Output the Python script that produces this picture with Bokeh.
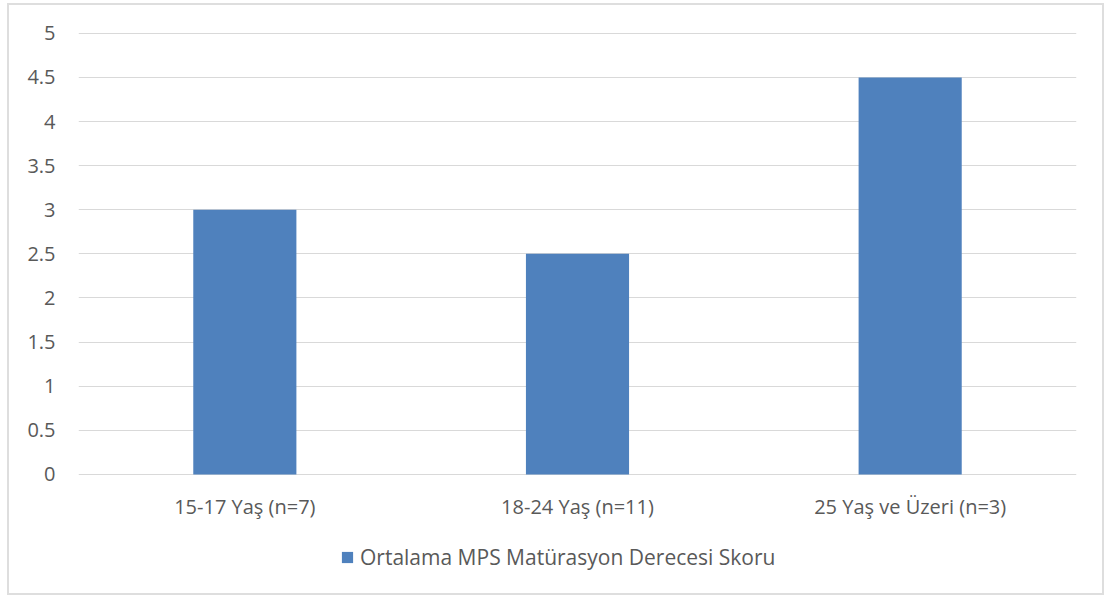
from bokeh.plotting import figure
from bokeh.models import FactorRange, Range1d, FixedTicker, Legend, LegendItem, ColumnDataSource
from bokeh.core.properties import value
from bokeh.embed import file_html
from bokeh.resources import INLINE

categories = ["15-17 Yaş (n=7)", "18-24 Yaş (n=11)", "25 Yaş ve Üzeri (n=3)"]
values = [3.0, 2.5, 4.5]
series_name = "Ortalama MPS Matürasyon Derecesi Skoru"
y_ticks = [0, 0.5, 1, 1.5, 2, 2.5, 3, 3.5, 4, 4.5, 5]
y_tick_labels = ["0", "0.5", "1", "1.5", "2", "2.5", "3", "3.5", "4", "4.5", "5"]

FONT = "Open Sans"
TXT = "#595959"
GRID = "#D9D9D9"
BAR = "#4F81BD"
FS = "20px"

src = ColumnDataSource(dict(cat=categories, val=values, ly=[-0.36] * len(categories)))

p = figure(x_range=FactorRange(*categories, range_padding=0), y_range=Range1d(-1.315, 5.02),
           width=1097, height=592, output_backend="svg", toolbar_location=None,
           min_border_left=69, min_border_right=30, min_border_top=26, min_border_bottom=7)
p.styles = {"border": "2px solid #DEDEDE"}
p.margin = (3, 0, 0, 7)
p.outline_line_color = None

r = p.vbar(x="cat", top="val", width=0.31, source=src, fill_color=BAR, line_color=None)
p.text(x="cat", y="ly", text="cat", source=src, text_font=value(FONT), text_font_size=FS,
       text_color=TXT, text_align="center", text_baseline="middle")

p.xaxis.visible = False
p.yaxis.ticker = FixedTicker(ticks=y_ticks)
p.yaxis.major_label_overrides = {t: l for t, l in zip(y_ticks, y_tick_labels)}
p.yaxis.axis_line_color = None
p.yaxis.major_tick_line_color = None
p.yaxis.minor_tick_line_color = None
p.yaxis.major_tick_out = 0
p.yaxis.major_label_text_font = FONT
p.yaxis.major_label_text_font_size = FS
p.yaxis.major_label_text_color = TXT
p.yaxis.major_label_standoff = 23
p.xgrid.grid_line_color = None
p.ygrid.grid_line_color = GRID
p.ygrid.grid_line_width = 1

legend = Legend(items=[LegendItem(label=series_name, renderers=[r])], location=(262, 19),
                orientation="horizontal", border_line_color=None, background_fill_alpha=0,
                label_text_font=FONT, label_text_font_size="21px", label_text_color=TXT,
                glyph_width=14, glyph_height=14, label_standoff=6, margin=0, padding=4)
p.add_layout(legend)

open("out.html", "w").write(file_html(p, INLINE))
